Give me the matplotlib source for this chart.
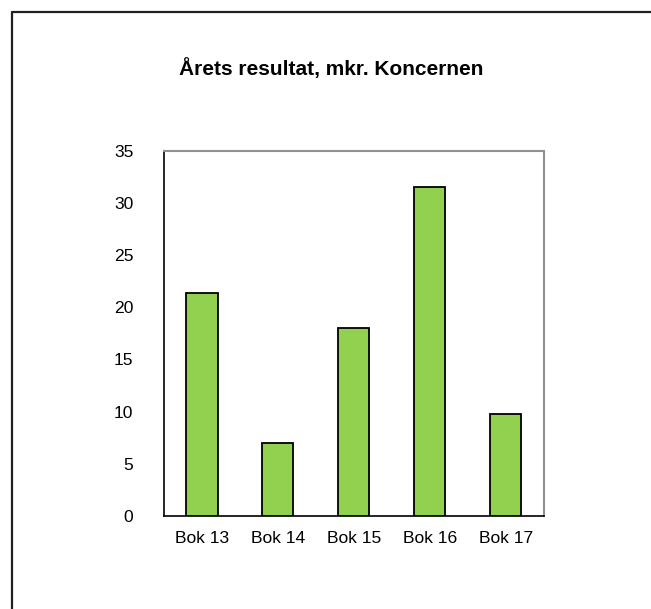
import matplotlib
matplotlib.use("Agg")
import matplotlib.pyplot as plt
from matplotlib.lines import Line2D

categories = ["Bok 13", "Bok 14", "Bok 15", "Bok 16", "Bok 17"]
values = [21.4, 6.95, 18.05, 31.55, 9.75]
yticks = [0, 5, 10, 15, 20, 25, 30, 35]

plt.rcParams['font.family'] = ['Liberation Sans', 'DejaVu Sans']

fig = plt.figure(figsize=(6.51, 6.09), dpi=100)
ax = fig.add_axes([164/651, 1-515.7/609, (543.7-164)/651, (515.7-151)/609])

x = range(len(categories))
ax.bar(x, values, width=0.41, color='#92D050', edgecolor='black', linewidth=1.3, zorder=3)

ax.set_xlim(-0.5, len(categories)-0.5)
ax.set_ylim(0, 35)
ax.set_yticks(yticks)
ax.set_xticks(list(x))
ax.set_xticklabels(categories)
ax.tick_params(axis='both', length=0, labelsize=12.6, colors='black')
ax.tick_params(axis='y', pad=22)
ax.tick_params(axis='x', pad=11)

for side in ['top', 'right']:
    ax.spines[side].set_color('#909090')
    ax.spines[side].set_linewidth(1.5)
for side in ['left', 'bottom']:
    ax.spines[side].set_color('black')
    ax.spines[side].set_linewidth(1.2)

fig.text(331/651, 1-68.5/609, "Årets resultat, mkr. Koncernen", ha='center', va='center',
         fontsize=15, fontweight='bold')

# outer chart frame (only top and left edges are inside the picture)
fx = 11.5/651
fy = 1-12/609
fig.add_artist(Line2D([fx, fx, 1.0], [0.0, fy, fy], transform=fig.transFigure,
                      color='#202020', linewidth=1.6))

fig.savefig("out.png", dpi=100)
